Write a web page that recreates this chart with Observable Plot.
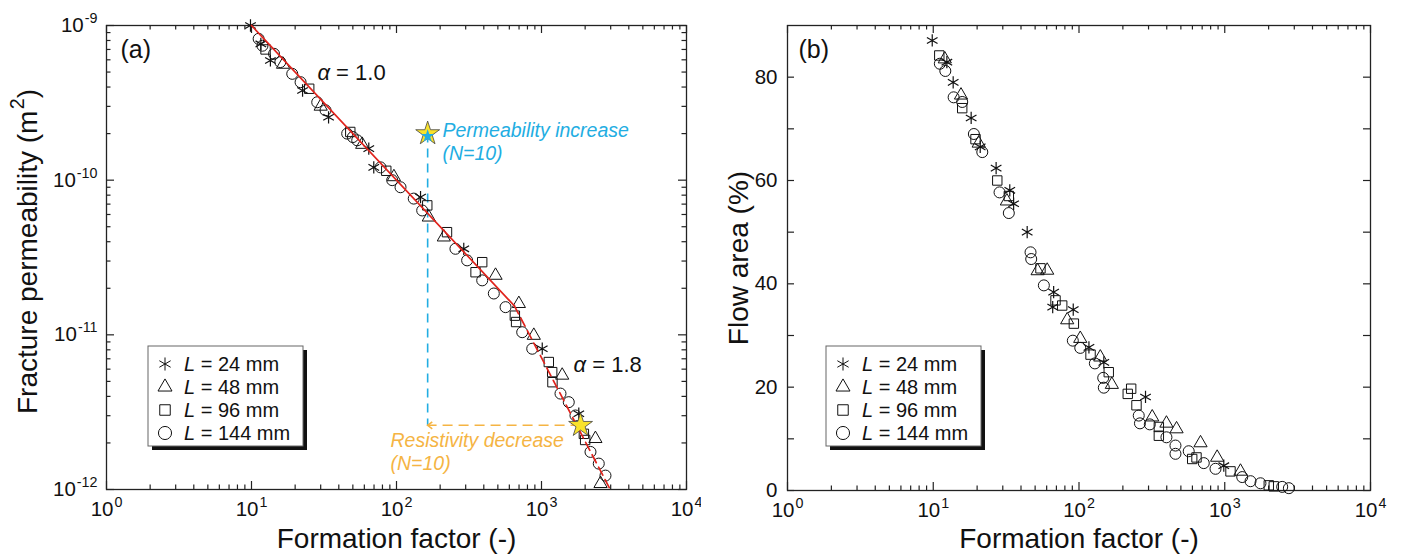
<!DOCTYPE html>
<html><head><meta charset="utf-8">
<script src="https://cdn.jsdelivr.net/npm/d3@7"></script>
<script src="https://cdn.jsdelivr.net/npm/@observablehq/plot@0.6"></script>
<style>
body{margin:0;background:#fff;}
#wrap{display:flex;width:1403px;height:555px;overflow:hidden;}
#wrap > svg{flex:none;}
</style></head><body><div id="wrap"></div>
<script>
// ---------------- data ----------------
const lengthsMM = [24, 48, 96, 144];
const symbolsBySeries = ["asterisk", "triangle", "square", "circle"];

// Panel (a): formation factor F vs fracture permeability k (m^2)
const permL24 = [[9.84,1.0e-9],[11.6,7.6e-10],[13.5,5.94e-10],[22.5,3.8e-10],[34,2.55e-10],[64.4,1.6e-10],[69.7,1.21e-10],[146.5,7.77e-11],[291,3.6e-11],[1012,8.13e-12],[1808,3.09e-12]];
const permL48 = [[16.5,5.6e-10],[30,3.0e-10],[58,1.7e-10],[96,1.05e-10],[167,5.76e-11],[212,4.28e-11],[482,2.42e-11],[698,1.59e-11],[885,9.9e-12],[1389,5.47e-12],[2354,2.13e-12],[2553,1.09e-12]];
const permL96 = [[12.5,7.0e-10],[25,3.9e-10],[48,2.05e-10],[85,1.15e-10],[163,6.87e-11],[223,4.61e-11],[351,2.54e-11],[390,2.95e-11],[655,1.33e-11],[668,1.21e-11],[1123,6.67e-12],[1185,5.74e-12],[1190,4.94e-12],[1960,2.29e-12],[2000,2.09e-12]];
const permL144 = [[11.2,8.2e-10],[11.9,7.4e-10],[14.3,6.56e-10],[15.8,5.8e-10],[19.1,4.87e-10],[21.8,4.3e-10],[28.4,3.19e-10],[32.4,2.83e-10],[45.7,2.0e-10],[50,1.9e-10],[53.6,1.81e-10],[77.6,1.21e-10],[93.4,1.0e-10],[106.6,9.0e-11],[131.5,7.6e-11],[150.4,6.37e-11],[255,3.6e-11],[307,3.03e-11],[390,2.25e-11],[469,1.85e-11],[565,1.51e-11],[736,1.04e-11],[863,8.13e-12],[1352,4.17e-12],[1542,3.67e-12],[1715,3.01e-12],[2177,1.75e-12],[2483,1.47e-12],[2762,1.23e-12]];

// Power-law fits (a = 1.0 and a = 1.8)
const fitA10 = [[10,1.0e-9],[650,1.54e-11]];
const fitA18 = [[650,1.54e-11],[2980,1.0e-12]];

// Stars: permeability increase / resistivity decrease (N=10)
const starPerm = [[164, 2.0e-10]];
const starRes = [[1860, 2.6e-12]];

// Panel (b): formation factor F vs flow area (%)
const flowL24 = [[9.84,87.1],[12.4,82.9],[13.7,79.0],[18.2,72.1],[21.0,66.5],[27.0,62.4],[33.5,58.1],[35.6,55.5],[44.1,50.0],[67,38.4],[66,35.5],[91.3,35.0],[117,27.7],[148,24.8],[286,18.1],[985,4.8]];
const flowL48 = [[12.0,83.5],[15.5,76.5],[20.5,67.2],[32.0,56.0],[52,42.5],[60.5,42.6],[83,33.0],[102,29.4],[140,25.8],[168,20.5],[318,14.2],[398,13.0],[467,11.9],[682,9.2],[887,6.4],[1282,3.7]];
const flowL96 = [[11.0,84.2],[15.8,74.0],[19.5,68.0],[27.5,60.0],[33,57.0],[54.4,43.0],[69,36.8],[76.7,35.8],[92.2,32.3],[120,26.3],[160,22.9],[228,19.7],[216,18.7],[248,16.5],[353,12.3],[353,10.6],[598,6.1],[640,6.4],[1095,3.7],[2005,1.0],[2170,0.8]];
const flowL144 = [[11.1,82.6],[12.1,81.2],[13.8,76.1],[15.8,75.2],[19.0,69.0],[21.7,65.5],[28.5,57.7],[33.0,53.7],[46.5,46.1],[47,44.8],[57.4,39.7],[90.7,29.0],[102,27.6],[128.5,24.6],[146.6,21.8],[148,19.9],[257,14.5],[262,13.0],[306,12.8],[398,10.3],[459,8.7],[459,7.1],[566,7.6],[718,5.3],[864,4.2],[1318,2.6],[1503,1.8],[1758,1.4],[2478,0.7],[2754,0.45]];

// Axis ticks / labels
const xDomain = [1, 1e4];
const permDomain = [1e-12, 1e-9];
const flowDomain = [0, 90];
const flowTicks = [0,10,20,30,40,50,60,70,80];
const flowLabels = [0,20,40,60,80];

// Annotation texts (anchored in data coordinates)
const alphaNotes = [[28.5,4.41e-10,"~{α} = 1.0"],[1663,5.71e-12,"~{α} = 1.8"]];
const permNotes = [[207.5,1.89e-10,"Permeability increase"],[207.5,1.36e-10,"(N=10)"]];
const resNotes = [[90.9,1.87e-12,"Resistivity decrease"],[90.9,1.33e-12,"(N=10)"]];

// ---------------- styling ----------------
const FONT = '"Liberation Sans", Arial, Helvetica, sans-serif';
const AXC = "#222";
const MAJ = 8, MIN = 4.5;
const RED = "#e0231c", CYAN = "#22ade2", ORANGE = "#f5b443", YELLOW = "#f9e22b";
const H = 555;

const isMajor = d => Math.abs(Math.log10(d) - Math.round(Math.log10(d))) < 1e-6;
function logTicks(dom) {
  const t = d3.scaleLog().domain(dom).ticks();
  return {major: t.filter(isMajor), minor: t.filter(d => !isMajor(d))};
}
const expLabel = d => `10^{${Math.round(Math.log10(d))}}`;

function tickMarks(xT, yMaj, yMin, fw, fh, yMajLen) {
  const st = {stroke: AXC, strokeWidth: 1.2};
  return [
    Plot.tickX(xT.major, {x: d => d, insetTop: fh - MAJ, ...st}),
    Plot.tickX(xT.major, {x: d => d, insetBottom: fh - MAJ, ...st}),
    Plot.tickX(xT.minor, {x: d => d, insetTop: fh - MIN, ...st}),
    Plot.tickX(xT.minor, {x: d => d, insetBottom: fh - MIN, ...st}),
    Plot.tickY(yMaj, {y: d => d, insetRight: fw - yMajLen, ...st}),
    Plot.tickY(yMaj, {y: d => d, insetLeft: fw - yMajLen, ...st}),
    Plot.tickY(yMin, {y: d => d, insetRight: fw - MIN, ...st}),
    Plot.tickY(yMin, {y: d => d, insetLeft: fw - MIN, ...st})
  ];
}
const symR = {asterisk: 5.8, triangle: 4.9, square: 5.3, circle: 5.5};
function dotSeries(arrays) {
  return arrays.map((arr, i) => Plot.dot(arr, {
    x: d => d[0], y: d => d[1], symbol: symbolsBySeries[i],
    r: symR[symbolsBySeries[i]],
    fill: "none", stroke: "#111", strokeWidth: symbolsBySeries[i] === "asterisk" ? 1.2 : 1
  }));
}
const arrowHead = {draw(ctx, size) { const s = Math.sqrt(size) / 2; ctx.moveTo(s * 1.3, -s); ctx.lineTo(0, 0); ctx.lineTo(s * 1.3, s); }};

// ---------------- panel (a) ----------------
const A = {w: 701, ml: 106, mr: 15, mt: 25, mb: 66};
const fwA = A.w - A.ml - A.mr, fhA = H - A.mt - A.mb;
const xT = logTicks(xDomain);
const kT = logTicks(permDomain);

const plotA = Plot.plot({
  width: A.w, height: H,
  marginLeft: A.ml, marginRight: A.mr, marginTop: A.mt, marginBottom: A.mb,
  style: {fontFamily: FONT, fontSize: "20px", color: "#111", background: "white", overflow: "visible"},
  x: {type: "log", domain: xDomain, axis: null},
  y: {type: "log", domain: permDomain, axis: null},
  marks: [
    ...tickMarks(xT, kT.major, kT.minor, fwA, fhA, MAJ),
    Plot.frame({stroke: AXC, strokeWidth: 1.3}),
    Plot.text(xT.major, {x: d => d, frameAnchor: "bottom", lineAnchor: "top", dy: 12, text: expLabel, fontSize: 20.5}),
    Plot.text(kT.major, {y: d => d, frameAnchor: "left", textAnchor: "end", dx: -9, text: expLabel, fontSize: 20.5}),
    Plot.text(["Formation factor (-)"], {frameAnchor: "bottom", textAnchor: "middle", lineAnchor: "bottom", dy: 58, text: d => d, fontSize: 28}),
    Plot.text(["Fracture permeability (m^{2})"], {frameAnchor: "left", textAnchor: "middle", lineAnchor: "bottom", rotate: -90, dx: -70, dy: -6, text: d => d, fontSize: 28}),
    Plot.text(["(a)"], {frameAnchor: "top-left", textAnchor: "start", lineAnchor: "bottom", dx: 14, dy: 32, text: d => d, fontSize: 25}),
    // guide lines
    Plot.link(starPerm, {x1: d => d[0], y1: d => d[1], x2: d => d[0], y2: () => starRes[0][1], stroke: CYAN, strokeWidth: 1.6, strokeDasharray: "9,6"}),
    Plot.link(starRes, {x1: d => d[0], y1: d => d[1], x2: () => starPerm[0][0], y2: d => d[1], stroke: ORANGE, strokeWidth: 1.6, strokeDasharray: "10,6"}),
    Plot.dot(starRes, {x: () => starPerm[0][0], y: d => d[1], symbol: arrowHead, r: 4, fill: "none", stroke: ORANGE, strokeWidth: 1.6}),
    // data
    ...dotSeries([permL24, permL48, permL96, permL144]),
    // fits
    Plot.line(fitA10, {x: d => d[0], y: d => d[1], stroke: RED, strokeWidth: 1.7}),
    Plot.line(fitA18, {x: d => d[0], y: d => d[1], stroke: RED, strokeWidth: 1.7, strokeDasharray: "9,5"}),
    // stars
    Plot.dot(starPerm, {x: d => d[0], y: d => d[1], symbol: "star", r: 7.5, fill: YELLOW, stroke: "#444", strokeWidth: 0.8}),
    Plot.dot(starPerm, {x: d => d[0], y: d => d[1], symbol: "star", r: 4.2, dy: 2.5, fill: CYAN, stroke: "none"}),
    Plot.dot(starRes, {x: d => d[0], y: d => d[1], symbol: "star", r: 7.5, fill: YELLOW, stroke: "#444", strokeWidth: 0.8}),
    // annotations
    Plot.text(alphaNotes, {x: d => d[0], y: d => d[1], text: d => d[2], textAnchor: "start", lineAnchor: "bottom", fontSize: 22}),
    Plot.text(permNotes, {x: d => d[0], y: d => d[1], text: d => d[2], textAnchor: "start", lineAnchor: "bottom", fontSize: 19.5, fontStyle: "italic", fill: CYAN}),
    Plot.text(resNotes, {x: d => d[0], y: d => d[1], text: d => d[2], textAnchor: "start", lineAnchor: "bottom", fontSize: 19.5, fontStyle: "italic", fill: ORANGE})
  ]
});

// ---------------- panel (b) ----------------
const B = {w: 702, ml: 86, mr: 33, mt: 25, mb: 65};
const fwB = B.w - B.ml - B.mr, fhB = H - B.mt - B.mb;
const plotB = Plot.plot({
  width: B.w, height: H,
  marginLeft: B.ml, marginRight: B.mr, marginTop: B.mt, marginBottom: B.mb,
  style: {fontFamily: FONT, fontSize: "20px", color: "#111", background: "white", overflow: "visible"},
  x: {type: "log", domain: xDomain, axis: null},
  y: {type: "linear", domain: flowDomain, axis: null},
  marks: [
    ...tickMarks(xT, flowTicks, [], fwB, fhB, 7),
    Plot.frame({stroke: AXC, strokeWidth: 1.3}),
    Plot.text(xT.major, {x: d => d, frameAnchor: "bottom", lineAnchor: "top", dy: 12, text: expLabel, fontSize: 20.5}),
    Plot.text(flowLabels, {y: d => d, frameAnchor: "left", textAnchor: "end", dx: -10, text: d => String(d), fontSize: 20.5}),
    Plot.text(["Formation factor (-)"], {frameAnchor: "bottom", textAnchor: "middle", lineAnchor: "bottom", dy: 57, text: d => d, fontSize: 28}),
    Plot.text(["Flow area (%)"], {frameAnchor: "left", textAnchor: "middle", lineAnchor: "bottom", rotate: -90, dx: -40, text: d => d, fontSize: 28}),
    Plot.text(["(b)"], {frameAnchor: "top-left", textAnchor: "start", lineAnchor: "bottom", dx: 11, dy: 32, text: d => d, fontSize: 25}),
    ...dotSeries([flowL24, flowL48, flowL96, flowL144])
  ]
});

const wrap = document.getElementById("wrap");
wrap.append(plotA, plotB);

// rich text: ^{..} superscript, ~{..} italic
function richify(root) {
  const NS = "http://www.w3.org/2000/svg";
  root.querySelectorAll("text").forEach(t => {
    const s = t.textContent;
    if (!/[\^~]\{/.test(s)) return;
    const fs = parseFloat(getComputedStyle(t).fontSize) || 20;
    const parts = s.split(/([\^~]\{[^}]*\})/).filter(p => p.length);
    t.textContent = "";
    let cur = 0;
    for (const p of parts) {
      const ts = document.createElementNS(NS, "tspan");
      let target = 0;
      if (p.startsWith("^{")) {
        ts.textContent = p.slice(2, -1);
        ts.setAttribute("font-size", (fs * 0.7).toFixed(1));
        ts.setAttribute("dx", (fs * 0.05).toFixed(1));
        target = -fs * 0.45;
      } else if (p.startsWith("~{")) {
        ts.textContent = p.slice(2, -1);
        ts.setAttribute("font-style", "italic");
      } else ts.textContent = p;
      if (target !== cur) { ts.setAttribute("dy", (target - cur).toFixed(1)); cur = target; }
      t.appendChild(ts);
    }
  });
}
richify(plotA); richify(plotB);

// legends
const legendSym = [[d3.symbolAsterisk, 120], [d3.symbolTriangle, 85], [d3.symbolSquare, 110], [d3.symbolCircle, 135]];
function addLegend(svg, x0, y0) {
  const g = d3.select(svg).append("g").attr("font-family", FONT).attr("text-anchor", "start");
  const w = 155, h = 100;
  g.append("rect").attr("x", x0 + 4).attr("y", y0 + 4).attr("width", w).attr("height", h).attr("fill", "#111");
  g.append("rect").attr("x", x0).attr("y", y0).attr("width", w).attr("height", h).attr("fill", "white").attr("stroke", "#666").attr("stroke-width", 1);
  lengthsMM.forEach((L, i) => {
    const cy = y0 + 18 + i * 23;
    g.append("path").attr("d", d3.symbol(legendSym[i][0], legendSym[i][1])())
      .attr("transform", `translate(${x0 + 17},${cy})`).attr("fill", "none").attr("stroke", "#111").attr("stroke-width", 1);
    const t = g.append("text").attr("x", x0 + 36).attr("y", cy + 7).attr("font-size", 20).attr("fill", "#111");
    t.append("tspan").attr("font-style", "italic").text("L");
    t.append("tspan").text(` = ${L} mm`);
  });
}
addLegend(plotA, 148, 346);
addLegend(plotB, 125, 346);
</script>
</body></html>
